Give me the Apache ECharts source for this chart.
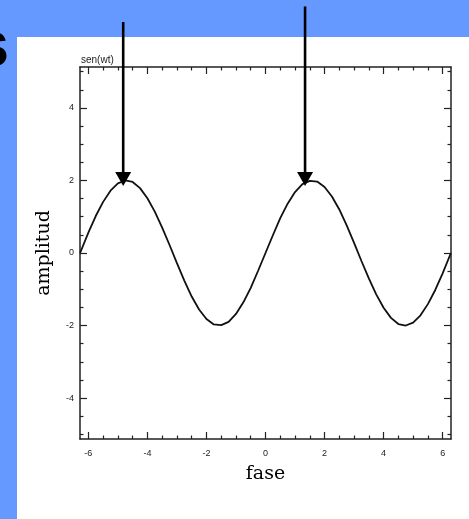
<!DOCTYPE html>
<html><head><meta charset="utf-8">
<script src="https://cdn.jsdelivr.net/npm/echarts@6/dist/echarts.min.js"></script>
<style>html,body{margin:0;padding:0;background:#6699ff}#c{width:469px;height:519px}</style>
</head><body><div id="c"></div>
<script>
// ---- data ----
const phaseX = [-6.28,-6.00,-5.75,-5.50,-5.25,-5.00,-4.75,-4.50,-4.25,-4.00,-3.75,-3.50,-3.25,-3.00,-2.75,-2.50,-2.25,-2.00,-1.75,-1.50,-1.25,-1.00,-0.75,-0.50,-0.25,0.00,0.25,0.50,0.75,1.00,1.25,1.50,1.75,2.00,2.25,2.50,2.75,3.00,3.25,3.50,3.75,4.00,4.25,4.50,4.75,5.00,5.25,5.50,5.75,6.00,6.28];
const amplitudeY = [0.00,0.56,1.02,1.41,1.72,1.92,2.00,1.96,1.79,1.51,1.14,0.70,0.22,-0.28,-0.76,-1.20,-1.56,-1.82,-1.97,-1.99,-1.90,-1.68,-1.36,-0.96,-0.49,0.00,0.49,0.96,1.36,1.68,1.90,1.99,1.97,1.82,1.56,1.20,0.76,0.28,-0.22,-0.70,-1.14,-1.51,-1.79,-1.96,-2.00,-1.92,-1.72,-1.41,-1.02,-0.56,0.00];
const arrowX = [-4.82, 1.34];
const arrowTop = [6.37, 6.80];
const arrowTip = [1.85, 1.85];
const xMajorTicks = [-6,-4,-2,0,2,4,6];
const xMinorTicks = [-5.5,-5,-4.5,-3.5,-3,-2.5,-1.5,-1,-0.5,0.5,1,1.5,2.5,3,3.5,4.5,5,5.5];
const yMajorTicks = [-4,-2,0,2,4];
const yMinorTicks = [-5,-4.5,-3.5,-3,-2.5,-1.5,-1,-0.5,0.5,1,1.5,2.5,3,3.5,4.5,5];
const xRange = [-6.2832, 6.2832];
const yRange = [-5.13, 5.13];
const titleText = 'sen(wt)';
const xName = 'fase';
const yName = 'amplitud';

const ink = '#222';
function xAx(pos, ticks, len, main){
  return {type:'value', position:pos, min:xRange[0], max:xRange[1], splitLine:{show:false},
    axisLine:{show:main, onZero:false, lineStyle:{color:ink, width:1.5}},
    axisTick:{show:true, inside:true, length:len, customValues:ticks, lineStyle:{color:ink, width:1.2}},
    axisLabel:(main && pos==='bottom') ? {customValues:xMajorTicks, fontSize:9, color:ink, margin:10, fontFamily:'Liberation Sans'} : {show:false},
    name:(main && pos==='bottom') ? xName : '', nameLocation:'middle', nameGap:26,
    nameTextStyle:{fontFamily:'DejaVu Serif', fontSize:19, color:'#000'}};
}
function yAx(pos, ticks, len, main){
  return {type:'value', position:pos, min:yRange[0], max:yRange[1], splitLine:{show:false},
    axisLine:{show:main, onZero:false, lineStyle:{color:ink, width:1.5}},
    axisTick:{show:true, inside:true, length:len, customValues:ticks, lineStyle:{color:ink, width:1.2}},
    axisLabel:(main && pos==='left') ? {customValues:yMajorTicks, fontSize:9, color:ink, margin:6, fontFamily:'Liberation Sans'} : {show:false},
    name:(main && pos==='left') ? yName : '', nameLocation:'middle', nameGap:26, nameRotate:90,
    nameTextStyle:{fontFamily:'DejaVu Serif', fontSize:19, color:'#000'}};
}

const chart = echarts.init(document.getElementById('c'), null, {renderer:'canvas'});
chart.setOption({
  animation:false,
  backgroundColor:'#6699ff',
  graphic:[
    {type:'rect', left:17, top:37, z:-10, shape:{width:460, height:490}, style:{fill:'#ffffff'}},
    {type:'text', x:-27, y:16, z:-5, style:{text:'s', font:'bold 65px "Liberation Sans"', fill:'#000'}}
  ],
  title:{text:titleText, left:81, top:55, padding:0, textStyle:{fontSize:10, fontWeight:'normal', color:ink, fontFamily:'Liberation Sans'}},
  grid:{left:80, top:67, width:371, height:372},
  xAxis:[xAx('bottom', xMajorTicks, 7, true), xAx('bottom', xMinorTicks, 3.5, false), xAx('top', xMajorTicks, 7, true), xAx('top', xMinorTicks, 3.5, false)],
  yAxis:[yAx('left', yMajorTicks, 7, true), yAx('left', yMinorTicks, 3.5, false), yAx('right', yMajorTicks, 7, true), yAx('right', yMinorTicks, 3.5, false)],
  series:[
    {type:'line', xAxisIndex:0, yAxisIndex:0, data:phaseX.map((x,i)=>[x, amplitudeY[i]]), showSymbol:false, symbol:'none',
      lineStyle:{color:'#111', width:1.8}, z:3},
    {type:'custom', xAxisIndex:0, yAxisIndex:0, clip:false, z:10,
      data:arrowX.map((x,i)=>[x, arrowTop[i], arrowTip[i]]),
      renderItem:function(params, api){
        const top = api.coord([api.value(0), api.value(1)]);
        const tip = api.coord([api.value(0), api.value(2)]);
        const hw = 8, hh = 14;
        return {type:'group', children:[
          {type:'line', shape:{x1:top[0], y1:top[1], x2:tip[0], y2:tip[1]-hh+2}, style:{stroke:'#000', lineWidth:2.6}},
          {type:'polygon', shape:{points:[[tip[0]-hw, tip[1]-hh],[tip[0]+hw, tip[1]-hh],[tip[0], tip[1]]]}, style:{fill:'#000'}}
        ]};
      }}
  ]
});
</script></body></html>
